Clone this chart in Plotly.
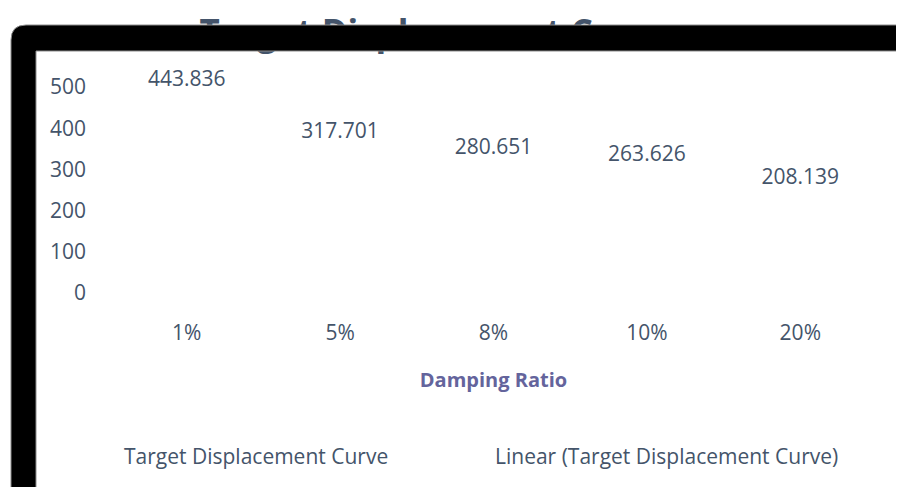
import numpy as np
import plotly.graph_objects as go

# ---------------- data ----------------
categories = ["1%", "5%", "8%", "10%", "20%"]
displacement = [443.836, 317.701, 280.651, 263.626, 208.139]
y_ticks = [0, 100, 200, 300, 400, 500]

chart_title = "Target Displacement Curve"
x_title = "Damping Ratio"
y_title = "Target Displacement (mm)"
series_name = "Target Displacement Curve"
trend_name = "Linear (Target Displacement Curve)"

# ---------------- helpers (page pixel -> figure fraction) ----------------
PAGE_W, PAGE_H = 904, 495
OFF = 8  # default page margin around the figure
W, H = PAGE_W - OFF, PAGE_H - 2 * OFF


def fx(px):
    return (px - OFF) / W


def fy(py):
    return 1 - (py - OFF) / H


SLATE = "#44546A"
PURPLE = "#64649C"
FONT = "Open Sans"

# linear trendline (derived from the series)
idx = np.arange(1, len(displacement) + 1)
slope, intercept = np.polyfit(idx, displacement, 1)
trend = slope * idx + intercept

fig = go.Figure()

fig.add_trace(go.Scatter(
    x=categories, y=displacement, name=series_name,
    mode="lines+markers+text",
    line=dict(color="rgba(0,0,0,0)", width=2),
    marker=dict(size=28, color="rgba(0,0,0,0)"),
    text=[f"{v:g}" for v in displacement],
    textposition="top center",
    textfont=dict(family=FONT, size=21, color=SLATE),
    cliponaxis=False, hoverinfo="x+y", legend="legend",
))
fig.add_trace(go.Scatter(
    x=categories, y=trend, name=trend_name, mode="lines",
    line=dict(color="rgba(0,0,0,0)", width=2),
    hoverinfo="skip", legend="legend2",
))

# chart title drawn in a full-figure overlay so the frame can cover it
fig.add_trace(go.Scatter(
    x=[fx(436)], y=[fy(36)], text=[chart_title], mode="text",
    xaxis="x2", yaxis="y2",
    textfont=dict(family=FONT, size=35, color=SLATE, weight="bold"),
    textposition="middle center",
    showlegend=False, hoverinfo="skip", cliponaxis=False,
))
# empty carrier trace for the (hidden) vertical axis title
fig.add_trace(go.Scatter(
    x=[0.5], y=[None], mode="markers", xaxis="x2", yaxis="y3",
    showlegend=False, hoverinfo="skip",
))

legend_style = dict(
    orientation="h", yanchor="middle", xanchor="left", y=fy(456),
    font=dict(family=FONT, size=21, color=SLATE),
    bgcolor="rgba(0,0,0,0)",
)

fig.update_layout(
    width=W, height=H,
    margin=dict(l=0, r=0, t=0, b=0, autoexpand=False),
    paper_bgcolor="white", plot_bgcolor="rgba(0,0,0,0)",
    font=dict(family=FONT, size=21, color=SLATE),
    showlegend=True,
    legend=dict(x=fx(84), **legend_style),
    legend2=dict(x=fx(455), **legend_style),
    xaxis=dict(
        domain=[fx(110), fx(877)], type="category", range=[-0.5, 4.5],
        showline=False, showgrid=False, zeroline=False, ticks="",
        tickfont=dict(family=FONT, size=21, color=SLATE),
        ticklabelstandoff=25,
        title=dict(text=x_title, standoff=27,
                   font=dict(family=FONT, size=20, color=PURPLE, weight="bold")),
    ),
    yaxis=dict(
        domain=[fy(293), fy(87)], range=[0, 500],
        tickvals=y_ticks, showline=False, showgrid=False, zeroline=False, ticks="",
        tickfont=dict(family=FONT, size=21, color=SLATE),
        ticklabelstandoff=23,
    ),
    xaxis2=dict(domain=[0, 1], range=[0, 1], anchor="y2", visible=False, fixedrange=True),
    yaxis2=dict(domain=[0, 1], range=[0, 1], anchor="x2", visible=False, fixedrange=True),
    yaxis3=dict(
        overlaying="y2", anchor="free", position=fx(34), side="left",
        range=[0, 1], fixedrange=True,
        showline=False, showgrid=False, zeroline=False, ticks="",
        tickvals=[fy(246)], ticktext=[y_title], tickangle=-90,
        ticklabelstandoff=0,
        tickfont=dict(family=FONT, size=20, color=PURPLE, weight="bold"),
    ),
)

# black frame (rounded top-left corner) lying over the chart
r = 15
outer = (
    f"M {fx(11)},{fy(520)} L {fx(11)},{fy(25 + r)} "
    f"Q {fx(11)},{fy(25)} {fx(11 + r)},{fy(25)} "
    f"L {fx(930)},{fy(25)} L {fx(930)},{fy(520)} Z"
)
inner = (
    f"M {fx(36)},{fy(51)} L {fx(920)},{fy(51)} L {fx(920)},{fy(515)} "
    f"L {fx(36)},{fy(515)} Z"
)
fig.add_shape(
    type="path", path=outer + " " + inner, xref="paper", yref="paper",
    fillcolor="black", fillrule="evenodd",
    line=dict(color="#8c8c8c", width=1), layer="above",
)

fig.write_html("out.html")
